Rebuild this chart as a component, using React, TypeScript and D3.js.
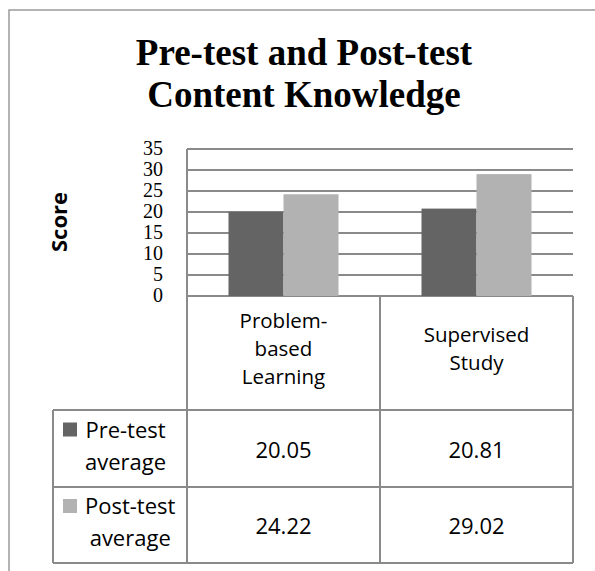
import React, { useEffect, useRef } from 'react'
import * as d3 from 'd3'

// Chart data
const categories = ['Problem-based Learning', 'Supervised Study']
const seriesNames = ['Pre-test average', 'Post-test average']
const preTest = [20.05, 20.81]
const postTest = [24.22, 29.02]
const yTicks = [0, 5, 10, 15, 20, 25, 30, 35]
const titleLines = ['Pre-test and Post-test', 'Content Knowledge']
const yAxisTitle = 'Score'

const seriesColors = ['#646464', '#b2b2b2']
const lineColor = '#8a8a8a'
const sansFont = "'Open Sans', 'Noto Sans', sans-serif"
const serifFont = "'Liberation Serif', 'Times New Roman', serif"

const App: React.FC = () => {
  const svgRef = useRef<SVGSVGElement>(null)

  useEffect(() => {
    if (!svgRef.current) {
      return
    }
    const width = 595
    const height = 571
    const svg = d3.select(svgRef.current)
    svg.selectAll('*').remove()
    svg.attr('width', width).attr('height', height)

    // Layout
    const plotLeft = 187
    const plotRight = 573
    const plotTop = 149
    const plotBottom = 296
    const tableLeft = 53
    const headerBottom = 410
    const rowBottoms = [487, 563]

    const series = [preTest, postTest]

    const x0 = d3
      .scaleBand<string>()
      .domain(categories)
      .range([plotLeft, plotRight])
      .paddingInner(0.43)
      .paddingOuter(0.215)
    const x1 = d3
      .scaleBand<string>()
      .domain(seriesNames)
      .range([0, x0.bandwidth()])
      .padding(0)
    const y = d3.scaleLinear().domain([0, 35]).range([plotBottom, plotTop])
    const step = x0.step()
    const colStart = (i: number) => plotLeft + i * step

    // Outer frame
    svg
      .append('rect')
      .attr('x', 9)
      .attr('y', 10)
      .attr('width', 600)
      .attr('height', 580)
      .attr('fill', '#fff')
      .attr('stroke', '#9a9a9a')
      .attr('stroke-width', 1.5)

    // Title
    svg
      .append('g')
      .selectAll('text')
      .data(titleLines)
      .enter()
      .append('text')
      .attr('x', 304)
      .attr('y', (_d, i) => 65 + i * 42)
      .attr('text-anchor', 'middle')
      .attr('font-family', serifFont)
      .attr('font-weight', 'bold')
      .attr('font-size', 37)
      .attr('fill', '#000')
      .text((d) => d)

    // Gridlines
    svg
      .append('g')
      .selectAll('line')
      .data(yTicks)
      .enter()
      .append('line')
      .attr('x1', plotLeft)
      .attr('x2', plotRight)
      .attr('y1', (d) => y(d))
      .attr('y2', (d) => y(d))
      .attr('stroke', lineColor)
      .attr('stroke-width', 2)

    // Y tick labels
    svg
      .append('g')
      .selectAll('text')
      .data(yTicks)
      .enter()
      .append('text')
      .attr('x', 163)
      .attr('y', (d) => y(d) - 1)
      .attr('text-anchor', 'end')
      .attr('dominant-baseline', 'central')
      .attr('font-family', serifFont)
      .attr('font-size', 20)
      .attr('fill', '#000')
      .text((d) => d)

    // Y axis title
    svg
      .append('text')
      .attr('transform', 'translate(67,222) rotate(-90)')
      .attr('text-anchor', 'middle')
      .attr('font-family', sansFont)
      .attr('font-weight', 'bold')
      .attr('font-size', 22)
      .attr('fill', '#000')
      .text(yAxisTitle)

    // Bars
    const groups = svg
      .append('g')
      .selectAll('g')
      .data(categories)
      .enter()
      .append('g')
      .attr('transform', (d) => `translate(${x0(d)},0)`)
    groups
      .selectAll('rect')
      .data((_d, ci) => series.map((s, si) => ({ name: seriesNames[si], value: s[ci], si })))
      .enter()
      .append('rect')
      .attr('x', (d) => x1(d.name) || 0)
      .attr('y', (d) => y(d.value))
      .attr('width', x1.bandwidth())
      .attr('height', (d) => y(0) - y(d.value))
      .attr('fill', (d) => seriesColors[d.si])

    // Data table grid
    const table = svg.append('g').attr('stroke', lineColor).attr('stroke-width', 2).attr('fill', 'none')
    // left axis line of plot & table columns
    table.append('line').attr('x1', plotLeft).attr('x2', plotLeft).attr('y1', plotTop).attr('y2', rowBottoms[1])
    categories.forEach((_c, i) => {
      table
        .append('line')
        .attr('x1', colStart(i + 1))
        .attr('x2', colStart(i + 1))
        .attr('y1', plotBottom)
        .attr('y2', rowBottoms[1])
    })
    table.append('line').attr('x1', tableLeft).attr('x2', tableLeft).attr('y1', headerBottom).attr('y2', rowBottoms[1])
    table.append('line').attr('x1', tableLeft).attr('x2', plotRight).attr('y1', headerBottom).attr('y2', headerBottom)
    rowBottoms.forEach((rb) => {
      table.append('line').attr('x1', tableLeft).attr('x2', plotRight).attr('y1', rb).attr('y2', rb)
    })

    // Category header text
    const headerCenter = 348
    const headerLineH = 28
    categories.forEach((c, i) => {
      const lines = c.split(/ |(?<=-)/)
      const cx = colStart(i) + step / 2
      lines.forEach((ln, li) => {
        svg
          .append('text')
          .attr('x', cx)
          .attr('y', headerCenter + (li - (lines.length - 1) / 2) * headerLineH + 8)
          .attr('text-anchor', 'middle')
          .attr('font-family', sansFont)
          .attr('font-size', 20.5)
          .attr('fill', '#000')
          .text(ln)
      })
    })

    // Rows: legend key + values
    const rowTops = [headerBottom, rowBottoms[0]]
    seriesNames.forEach((name, si) => {
      const top = rowTops[si]
      const bottom = rowBottoms[si]
      const mid = (top + bottom) / 2
      const lines = name.split(' ')
      const legendLineH = 32
      const firstBaseline = mid - legendLineH / 2 + 8 - 3
      const texts = lines.map((ln, li) =>
        svg
          .append('text')
          .attr('y', firstBaseline + li * legendLineH)
          .attr('text-anchor', 'middle')
          .attr('font-family', sansFont)
          .attr('font-size', 22)
          .attr('fill', '#000')
          .text(ln)
      )
      const widths = texts.map((t) => (t.node() as SVGTextElement).getComputedTextLength())
      const maxW = d3.max(widths) || 0
      texts.forEach((t) => t.attr('x', 85 + maxW / 2))
      svg
        .append('rect')
        .attr('x', 63)
        .attr('y', firstBaseline - 15)
        .attr('width', 14)
        .attr('height', 14)
        .attr('fill', seriesColors[si])

      categories.forEach((_c, ci) => {
        svg
          .append('text')
          .attr('x', colStart(ci) + step / 2)
          .attr('y', mid)
          .attr('dominant-baseline', 'central')
          .attr('text-anchor', 'middle')
          .attr('font-family', sansFont)
          .attr('font-size', 22)
          .attr('fill', '#000')
          .text(series[si][ci].toFixed(2))
      })
    })
  }, [])

  return (
    <svg
      ref={svgRef}
      style={{ position: 'absolute', left: 0, top: 0, display: 'block', background: '#fff' }}
    />
  )
}

export default App
